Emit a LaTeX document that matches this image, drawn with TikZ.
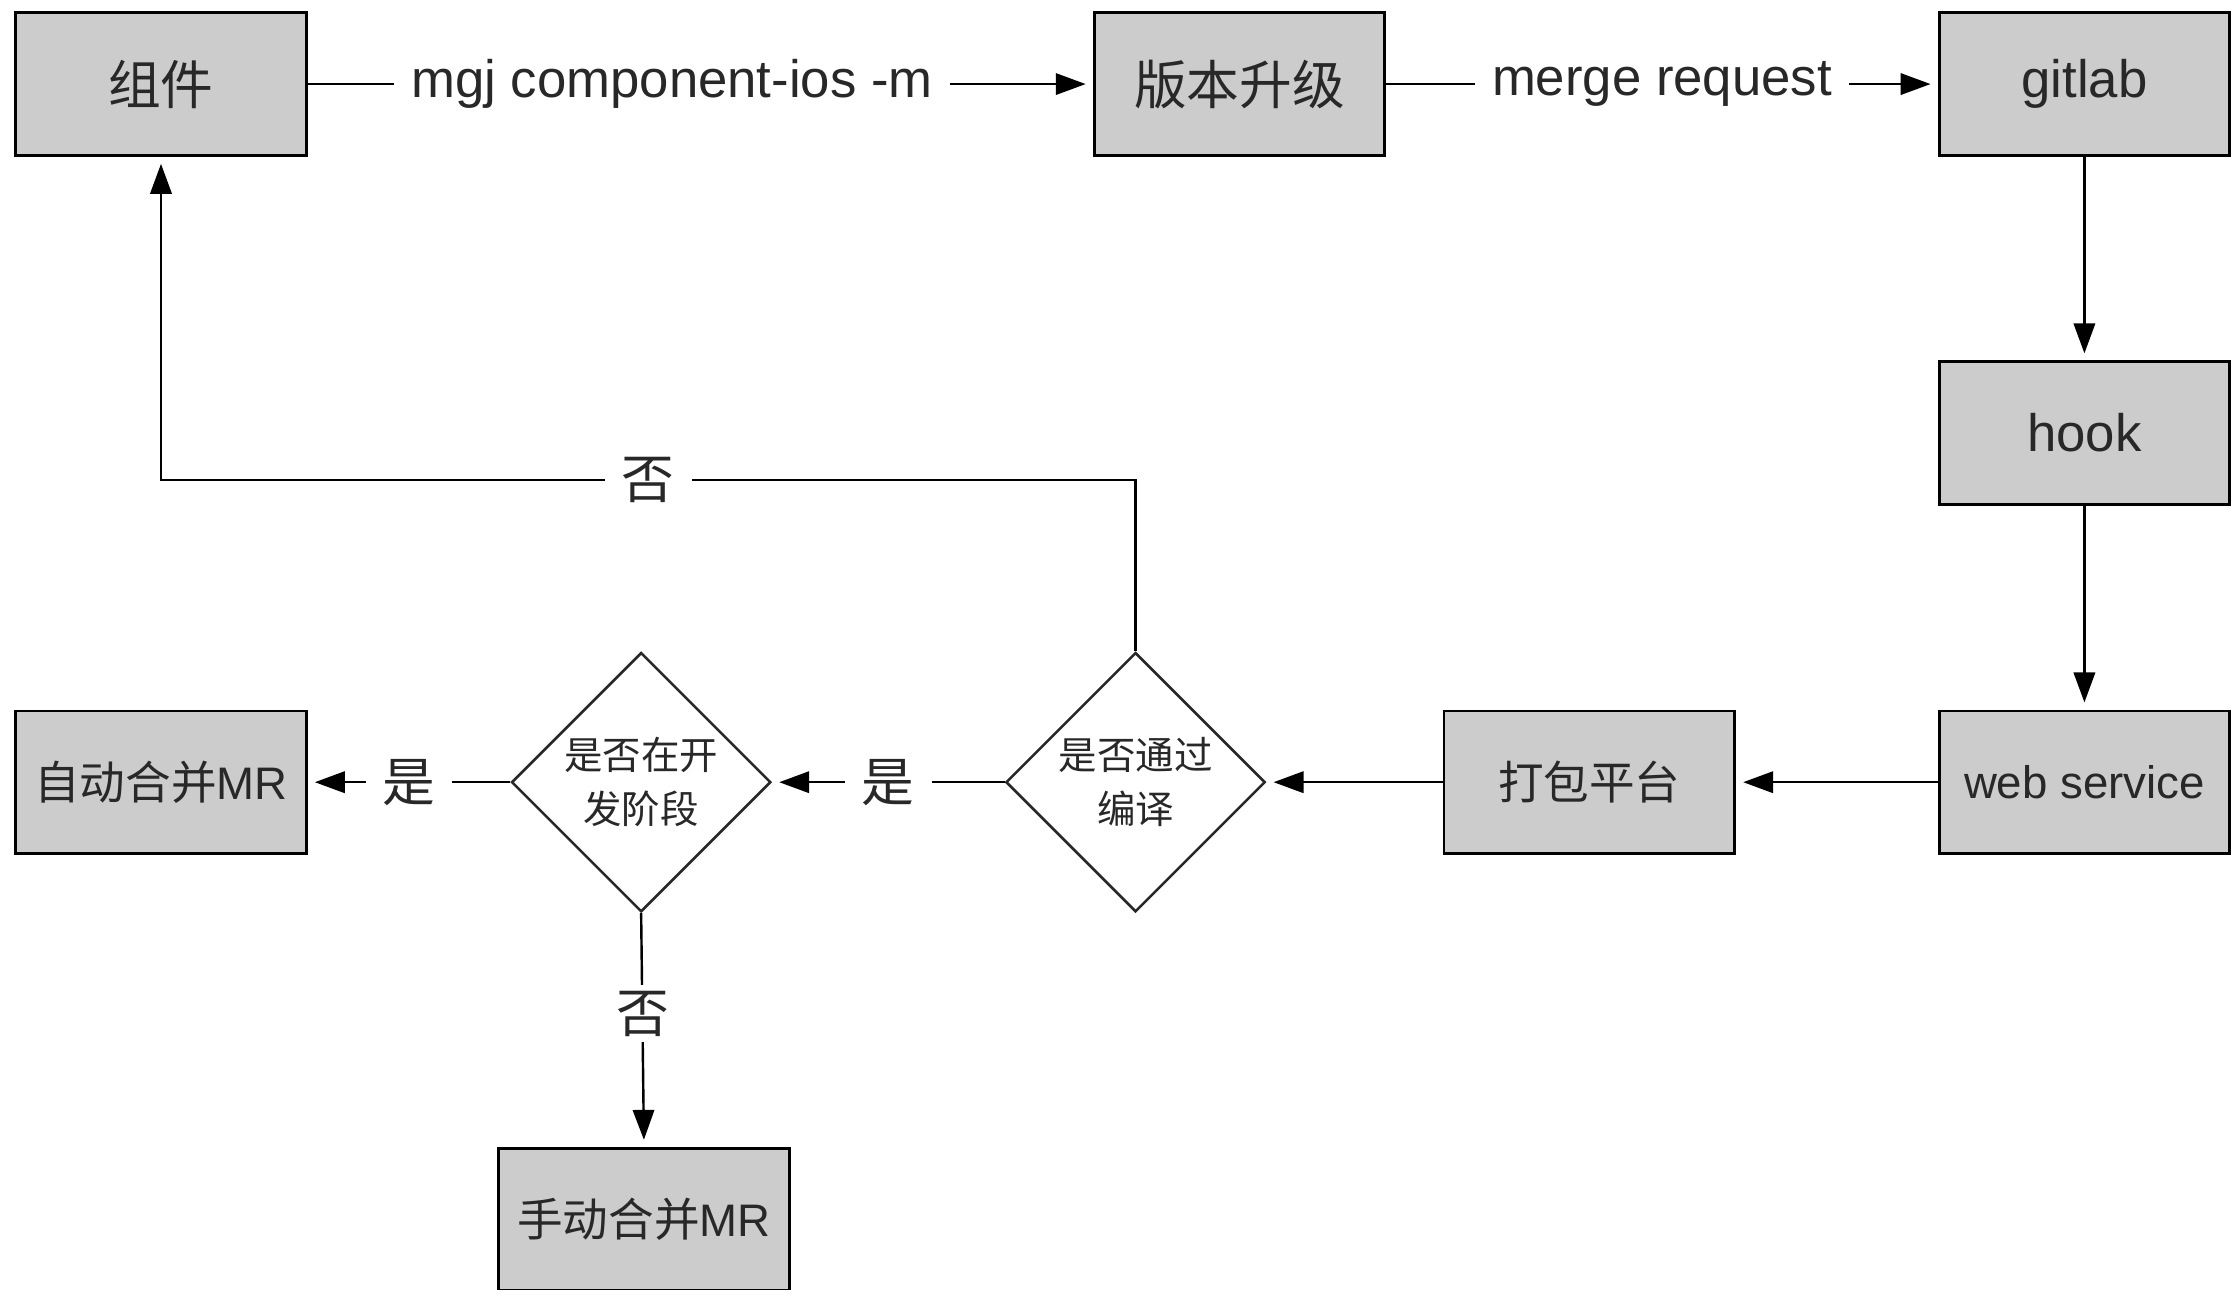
\documentclass[tikz,border=0pt]{standalone}
\usepackage{fontspec}
\setmainfont{Liberation Sans}
\newfontfamily\cjk{Noto Sans CJK SC}
\usetikzlibrary{arrows.meta,shapes.geometric}

\definecolor{boxgray}{RGB}{204,204,204}
\definecolor{inkgray}{RGB}{40,40,40}

\tikzset{
    box/.style={draw=black, line width=1pt, fill=boxgray, text=inkgray,
        minimum width=102pt, minimum height=50pt, inner sep=0pt,
        font=\fontsize{18.5}{22}\selectfont},
    smallbox/.style={box, font=\fontsize{16}{19}\selectfont},
    decision/.style={diamond, aspect=1, draw=inkgray, line width=0.9pt, fill=white,
        text=inkgray, minimum width=91pt, minimum height=91pt, inner sep=0pt,
        align=center, font=\cjk\fontsize{13.5}{19}\selectfont},
    flow/.style={draw=black, line width=0.85pt, shorten >=2.5pt,
        -{Triangle[length=10.5pt,width=7.5pt]}},
    lbl/.style={fill=white, text=inkgray, inner xsep=6pt, inner ysep=2pt,
        font=\fontsize{18.5}{22}\selectfont}
}

\begin{document}
\begin{tikzpicture}[x=0.5pt,y=0.5pt,yscale=-1,xscale=1]
    \useasboundingbox (0,0) rectangle (1568,905);

    % Boxes
    \node [box] (comp) at (113,59) {\cjk 组件};
    \node [box] (ver) at (870,59) {\cjk 版本升级};
    \node [box] (git) at (1463,59) {gitlab};
    \node [box] (hook) at (1463,304) {hook};
    \node [smallbox] (web) at (1463,549) {web service};
    \node [smallbox] (pack) at (1115.5,549) {\cjk 打包平台};
    \node [smallbox] (auto) at (113,549) {{\cjk 自动合并}MR};
    \node [smallbox] (manual) at (452,856) {{\cjk 手动合并}MR};

    % Decisions
    \node [decision] (build) at (797,549) {是否通过\\编译};
    \node [decision] (dev) at (450,549) {是否在开\\发阶段};

    % Back corner
    \coordinate (back) at (113,337);

    %Straight Lines
    \draw [flow] (comp) -- node [lbl, pos=0.464] {mgj component-ios -m} (ver);
    \draw [flow] (ver) -- node [lbl] {merge request} (git);
    \draw [flow] (git) -- (hook);
    \draw [flow] (hook) -- (web);
    \draw [flow] (web) -- (pack);
    \draw [flow] (pack) -- (build);
    \draw [flow] (build) -- node [lbl] {\cjk 是} (dev);
    \draw [flow] (dev) -- node [lbl] {\cjk 是} (auto);
    \draw [flow] (dev.south) -- node [lbl, pos=0.43] {\cjk 否} (manual.north);
    \draw [flow] (build.north) |- node [lbl, pos=0.75] {\cjk 否} (back) -- (comp.south);

\end{tikzpicture}
\end{document}
